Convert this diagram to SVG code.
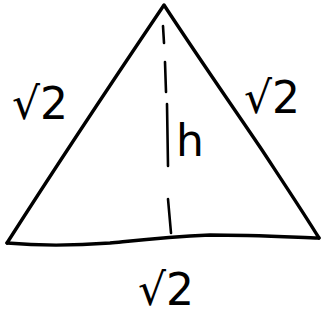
<svg xmlns="http://www.w3.org/2000/svg" width="326" height="325" viewBox="0 0 326 325">
<style>
.edge{fill:none;stroke:#000;stroke-width:3.4;stroke-linecap:round;stroke-linejoin:round}
.dash{fill:none;stroke:#000;stroke-width:2.6;stroke-linecap:round}
.lbl{font-family:"DejaVu Sans",sans-serif;font-size:44px;fill:#000}
</style>
<rect width="326" height="325" fill="#fff"/>
<g id="connectors">
<path class="edge" d="M7,243 C60,160 110,85 164,5 C200,60 235,110 262,150 C285,185 305,215 319,238"/>
<path class="edge" d="M7,243 C40,246 70,246 110,243 C140,240 165,237 210,235 C250,235 290,237 319,238"/>
<path class="dash" d="M163,26 L164,43 M165,62 L166,92 M167,104 L168,166 M168,199 L171,233"/>
</g>
<g id="label-left"><text class="lbl" x="12" y="119">√2</text></g>
<g id="label-right"><text class="lbl" x="244" y="113">√2</text></g>
<g id="label-h"><text class="lbl" x="176" y="156" font-size="52">h</text></g>
<g id="label-bottom"><text class="lbl" x="138" y="305" font-size="48">√2</text></g>
</svg>
